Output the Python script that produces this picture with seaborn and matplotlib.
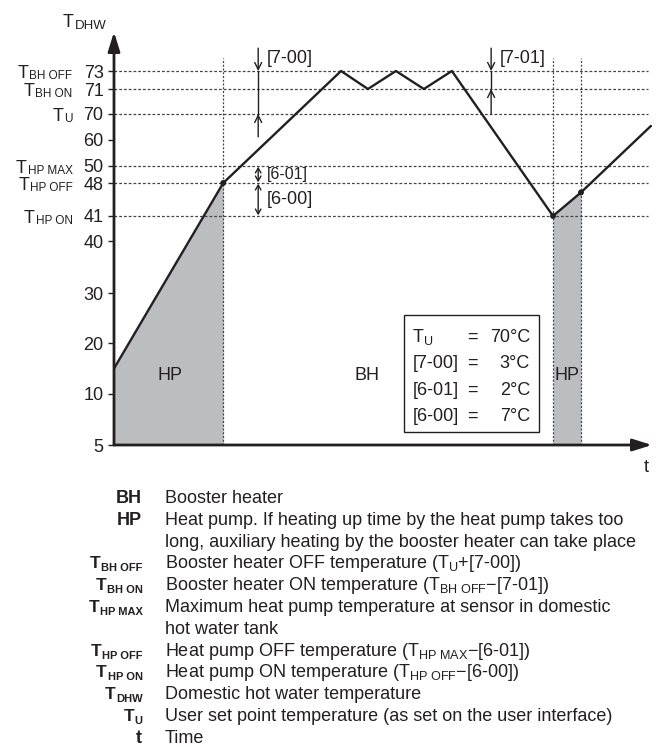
import numpy as np
import matplotlib
matplotlib.use("Agg")
import matplotlib.pyplot as plt
import seaborn as sns
from matplotlib.patches import Rectangle
from matplotlib.transforms import IdentityTransform

# Curva de temperatura del depósito (unidades de tiempo esquemáticas)
time_pts = [0, 20.3, 42.2, 47.2, 52.4, 57.6, 62.8, 81.6, 86.8, 99.8]
temp_pts = [15, 48, 73, 71, 73, 71, 73, 41, 46, 65.4]
hp_on_idx = [1, 7, 8]          # puntos marcados / límites de las zonas HP

# Eje Y (escala no lineal en el original)
tick_values = [5, 10, 20, 30, 40, 41, 48, 50, 60, 70, 71, 73]
tick_names = {73: "BH OFF", 71: "BH ON", 70: "U", 50: "HP MAX", 48: "HP OFF", 41: "HP ON"}
guide_levels = [73, 71, 70, 50, 48, 41]

# Cuadro de ajustes
settings_keys = ["U", "[7-00]", "[6-01]", "[6-00]"]
settings_vals = ["70°C", "3°C", "2°C", "7°C"]

# Leyenda inferior (None = línea de continuación; "T:xx" = T con subíndice xx)
legend_keys = ["BH", "HP", None, "T:BH OFF", "T:BH ON", "T:HP MAX", None,
               "T:HP OFF", "T:HP ON", "T:DHW", "T:U", "t"]
legend_texts = ["Booster heater",
                "Heat pump. If heating up time by the heat pump takes too",
                "long, auxiliary heating by the booster heater can take place",
                "Booster heater OFF temperature (T$_{\\mathrm{U}}$+[7-00])",
                "Booster heater ON temperature (T$_{\\mathrm{BH\\ OFF}}$\u2212[7-01])",
                "Maximum heat pump temperature at sensor in domestic",
                "hot water tank",
                "Heat pump OFF temperature (T$_{\\mathrm{HP\\ MAX}}$\u2212[6-01])",
                "Heat pump ON temperature (T$_{\\mathrm{HP\\ OFF}}$\u2212[6-00])",
                "Domestic hot water temperature",
                "User set point temperature (as set on the user interface)",
                "Time"]

sns.set_style("white")
plt.rcParams["font.family"] = ["Liberation Sans", "DejaVu Sans"]
plt.rcParams["mathtext.fontset"] = "custom"
plt.rcParams["mathtext.rm"] = "Liberation Sans"
plt.rcParams["mathtext.it"] = "Liberation Sans:italic"
plt.rcParams["mathtext.bf"] = "Liberation Sans:bold"

ink = "#231f20"
fill_grey = "#bcbdc0"
dot_grey = "#444444"

W, H = 662, 747
fig = plt.figure(figsize=(W / 100, H / 100), dpi=100)
renderer = fig.canvas.get_renderer()


def fx(px):
    return px / W


def fy(py):
    return 1 - py / H


def t_sub(x, y, sub, size=13, sub_size=8.5, ha="right", weight="normal", drop=2):
    # "T" con subíndice; x, y en píxeles de pantalla (origen abajo-izquierda), y = línea base
    s = fig.text(0, 0, sub, fontsize=sub_size, fontweight=weight, color=ink,
                 va="baseline", ha="left", transform=IdentityTransform())
    t = fig.text(0, 0, "T", fontsize=size, fontweight=weight, color=ink,
                 va="baseline", ha="left", transform=IdentityTransform())
    ws = s.get_window_extent(renderer).width
    wt = t.get_window_extent(renderer).width
    x0 = x - ws - wt if ha == "right" else x
    t.set_position((x0, y))
    s.set_position((x0 + wt + 0.5, y - drop))


ax = fig.add_axes([fx(114), fy(445), (652 - 114) / W, (445 - 32) / H])

# escala esquemática del eje de temperatura
axis_vals = [5, 10, 20, 30, 40, 41, 48, 50, 60, 70, 71, 73, 80]
axis_pos = [0, 51, 102, 152, 204, 229, 262, 279, 305, 331, 356, 374, 413]


def forward(v):
    return np.interp(v, axis_vals, axis_pos)


def inverse(p):
    return np.interp(p, axis_pos, axis_vals)


ax.set_yscale("function", functions=(forward, inverse))
ax.set_xlim(0, 100)
ax.set_ylim(5, 80)

# zonas de bomba de calor
ax.fill_between(time_pts[0:2], temp_pts[0:2], 5, color=fill_grey, lw=0, zorder=1)
ax.fill_between(time_pts[7:9], temp_pts[7:9], 5, color=fill_grey, lw=0, zorder=1)

# líneas guía punteadas
ax.hlines(guide_levels, 0, 99.3, colors=dot_grey, linestyles=(0, (2.2, 1.6)), lw=0.9, zorder=2)
ax.vlines([time_pts[i] for i in hp_on_idx], 5, 75.3, colors=dot_grey,
          linestyles=(0, (1.6, 1.4)), lw=0.9, zorder=2)

sns.lineplot(x=time_pts, y=temp_pts, ax=ax, color=ink, lw=1.7, zorder=4)
sns.scatterplot(x=[time_pts[i] for i in hp_on_idx], y=[temp_pts[i] for i in hp_on_idx],
                ax=ax, color=ink, s=18, edgecolor="none", zorder=5)

# ejes con flechas
for sp in ax.spines.values():
    sp.set_visible(False)
axis_arrow = dict(arrowstyle="-|>,head_length=1.15,head_width=0.36", lw=2, color=ink,
                  shrinkA=0, shrinkB=0, mutation_scale=10)
ax.annotate("", xy=(0, 1), xytext=(0, 0), xycoords="axes fraction", arrowprops=axis_arrow)
ax.annotate("", xy=(1, 0), xytext=(0, 0), xycoords="axes fraction", arrowprops=axis_arrow)

ax.set_xticks([])
ax.set_yticks(tick_values)
ax.set_yticklabels([str(v) for v in tick_values])
ax.tick_params(axis="y", length=4.5, width=1, direction="out", pad=3, labelsize=13,
               color=ink, labelcolor=ink, left=True)
ax.minorticks_off()

# nombres de los niveles (T con subíndice) a la izquierda de los números
x_axis_disp = ax.transAxes.transform((0, 0))[0]
for v, name in tick_names.items():
    y_disp = ax.transData.transform((0, v))[1]
    t_sub(x_axis_disp - 42, y_disp - 7, name, size=13, sub_size=8.5, drop=1)

# cotas [7-00], [7-01], [6-01], [6-00]
small_arrow = dict(arrowstyle="->,head_length=0.5,head_width=0.25", lw=1, color=ink,
                   shrinkA=0, shrinkB=0)
x_a, x_b = 26.8, 70.1
ax.annotate("", xy=(x_a, 73), xytext=(x_a, 77.1), arrowprops=small_arrow)
ax.plot([x_a, x_a], [73, 70], color=ink, lw=1)
ax.annotate("", xy=(x_a, 70), xytext=(x_a, 61.2), arrowprops=small_arrow)
ax.annotate("", xy=(x_b, 73), xytext=(x_b, 77.1), arrowprops=small_arrow)
ax.plot([x_b, x_b], [73, 71], color=ink, lw=1)
ax.annotate("", xy=(x_b, 71), xytext=(x_b, 70), arrowprops=small_arrow)
both = dict(arrowstyle="<->,head_length=0.35,head_width=0.2", lw=1, color=ink,
            shrinkA=0.5, shrinkB=0.5)
ax.annotate("", xy=(x_a, 50), xytext=(x_a, 48), arrowprops=both)
ax.annotate("", xy=(x_a, 48), xytext=(x_a, 41), arrowprops=both)
ax.text(28.4, 75.3, "[7-00]", fontsize=13, va="center", ha="left", color=ink)
ax.text(71.7, 75.3, "[7-01]", fontsize=13, va="center", ha="left", color=ink)
ax.text(28.4, 49, "[6-01]", fontsize=11.5, va="center", ha="left", color=ink)
ax.text(28.4, 44.4, "[6-00]", fontsize=13, va="center", ha="left", color=ink)

# etiquetas de zonas
ax.text(10.4, 13.7, "HP", fontsize=13, ha="center", va="center", color=ink)
ax.text(47, 13.7, "BH", fontsize=13, ha="center", va="center", color=ink)
ax.text(84.2, 13.7, "HP", fontsize=13, ha="center", va="center", color=ink)

# títulos de eje
t_sub(63, H - 27, "DHW", size=13, sub_size=9.5, ha="left", drop=2)
fig.text(fx(646), fy(468), "t", fontsize=13, ha="center", va="center", color=ink)

# cuadro de ajustes
fig.add_artist(Rectangle((fx(404), fy(432)), (539 - 404) / W, (432 - 315) / H,
                         transform=fig.transFigure, fill=False, ec=ink, lw=1))
for i, (k, v) in enumerate(zip(settings_keys, settings_vals)):
    yb = 337 + i * 26.3 + 5
    if k == "U":
        t_sub(413, H - yb, "U", size=13, sub_size=9, ha="left", drop=3)
    else:
        fig.text(fx(413), fy(yb), k, fontsize=13, ha="left", va="baseline", color=ink)
    fig.text(fx(467), fy(yb), "=", fontsize=13, ha="left", va="baseline", color=ink)
    fig.text(fx(530), fy(yb), v, fontsize=13, ha="right", va="baseline", color=ink)

# leyenda inferior
for i, (k, d) in enumerate(zip(legend_keys, legend_texts)):
    yb = 498 + i * 21.8 + 5
    if k is not None and k.startswith("T:"):
        t_sub(142, H - yb, k[2:], size=12.5, sub_size=8, weight="bold", drop=3)
    elif k is not None:
        fig.text(fx(142), fy(yb), k, fontsize=13, fontweight="bold", ha="right",
                 va="baseline", color=ink)
    fig.text(fx(165), fy(yb), d, fontsize=13, ha="left", va="baseline", color=ink)

fig.savefig("out.png", dpi=100)
